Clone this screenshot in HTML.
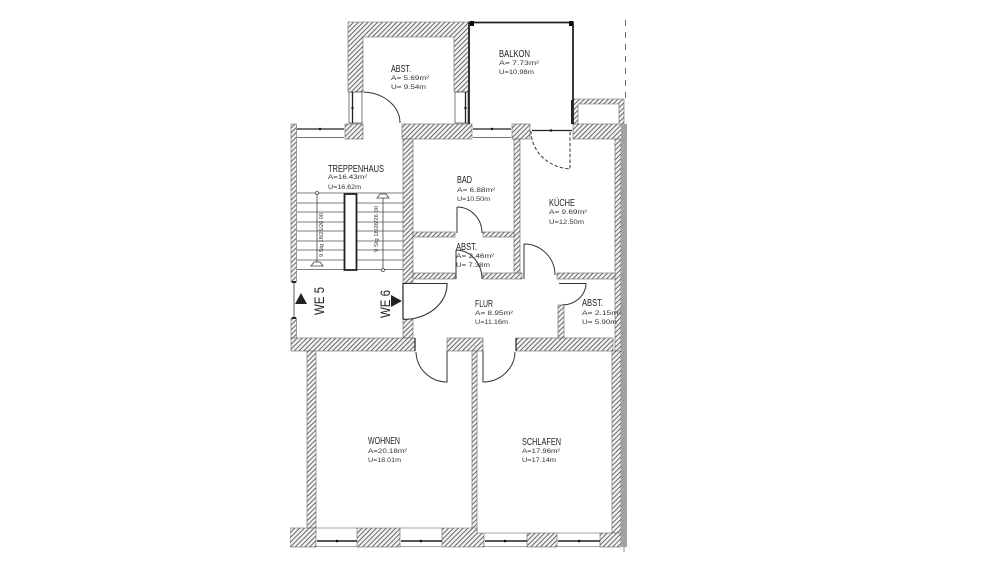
<!DOCTYPE html>
<html><head><meta charset="utf-8"><style>
html,body{margin:0;padding:0;background:#fff}
svg{display:block}
text{font-family:"Liberation Sans",sans-serif;fill:#222}
.t{font-size:10px}
.s{font-size:6.5px;fill:#333}
.v{font-size:5px;fill:#333}
.w{font-size:14px}
</style></head><body>
<svg width="1000" height="563" viewBox="0 0 1000 563" xmlns="http://www.w3.org/2000/svg">
<defs>
<pattern id="h" width="3.4" height="3.4" patternUnits="userSpaceOnUse" patternTransform="rotate(45)">
<rect width="3.4" height="3.4" fill="#f4f4f4"/><rect width="1" height="3.4" fill="#666"/>
</pattern>
<pattern id="d" width="1.8" height="1.8" patternUnits="userSpaceOnUse" patternTransform="rotate(45)">
<rect width="1.8" height="1.8" fill="#c4c4c4"/><rect width=".8" height="1.8" fill="#777"/>
</pattern>
<filter id="b" x="0" y="0" width="100%" height="100%"><feGaussianBlur stdDeviation="0.35"/></filter>
</defs>
<rect width="1000" height="563" fill="#fff"/>
<g filter="url(#b)">
<g fill="url(#h)" stroke="#666" stroke-width=".6">
<path d="M348 22H469V92H454V37H363V92H348Z"/>
<rect x="345" y="124" width="18" height="15"/>
<rect x="402" y="124" width="70" height="15"/>
<rect x="512" y="124" width="18" height="15"/>
<rect x="573" y="124" width="51" height="15"/>
<path d="M573 99H624V124H619V104H578V124H573Z"/>
<rect x="291" y="124" width="5.5" height="158"/>
<rect x="291" y="318" width="5.500" height="20"/>
<rect x="403" y="139" width="10" height="144"/>
<rect x="403" y="319" width="10" height="19"/>
<rect x="514" y="139" width="6" height="134"/>
<rect x="615" y="139" width="6" height="389"/>
<rect x="291" y="338" width="124" height="13"/>
<rect x="447" y="338" width="36" height="13"/>
<rect x="516" y="338" width="97" height="13"/>
<rect x="413" y="232" width="42" height="5"/>
<rect x="483" y="232" width="31" height="5"/>
<rect x="413" y="273" width="42" height="6"/>
<rect x="483" y="273" width="39" height="6"/>
<rect x="557" y="273" width="58" height="6"/>
<rect x="558" y="305" width="6" height="33"/>
<rect x="307" y="351" width="9" height="177"/>
<rect x="472" y="351" width="5" height="182"/>
<rect x="612" y="351" width="9" height="182"/>
<rect x="290" y="528" width="26" height="19"/>
<rect x="357" y="528" width="43" height="19"/>
<path d="M442 528H477V533H484V547H442Z"/>
<rect x="527" y="533" width="30" height="14"/>
<rect x="600" y="533" width="21" height="14"/>
</g>
<rect x="621" y="124" width="6" height="423" fill="url(#d)"/>

<!-- windows -->
<g fill="none" stroke="#444" stroke-width=".7">
<rect x="349" y="92" width="13" height="31"/>
<rect x="455" y="92" width="13" height="31"/>
<path d="M297 137.500H344M473 137.500H511"/>
<path d="M316 546.500H357M400 546.500H442M484 546.500H527M557 546.500H600" stroke="#888"/>
<path d="M316 528H357M400 528H442M484 533H527M557 533H600" stroke="#888"/>
</g>
<g fill="none" stroke="#222" stroke-width="1.300">
<path d="M352.500 92V123M465.500 92V123"/>
<path d="M297 129H344M473 129H511M532 130.500H572"/>
<path d="M317 541H357M401 541H442M485 541H527M558 541H600" stroke-width="1.500"/>
</g>
<g fill="#111">
<circle cx="320" cy="129" r="1.200"/><circle cx="492" cy="129" r="1.200"/><circle cx="551" cy="130.500" r="1.200"/>
<circle cx="337" cy="541" r="1.300"/><circle cx="421" cy="541" r="1.300"/><circle cx="505" cy="541" r="1.300"/><circle cx="579" cy="541" r="1.300"/>
<circle cx="352.500" cy="108" r="1.200"/><circle cx="465.500" cy="108" r="1.200"/>
</g>

<!-- balkon -->
<path d="M469 124V22.500H573V124" fill="none" stroke="#222" stroke-width="1.800"/>
<rect x="470" y="21" width="4" height="5" fill="#111"/><rect x="569" y="21" width="4" height="5" fill="#111"/>
<rect x="571" y="100" width="2.500" height="24" fill="#222"/>
<path d="M625.500 20V100" stroke="#555" stroke-width=".9" stroke-dasharray="6 6" fill="none"/>
<path d="M624 547V552" stroke="#555" stroke-width=".7"/>

<!-- stairs -->
<g stroke="#555" stroke-width=".8" fill="none">
<path d="M297 193H403M297 203H403M297 212H403M297 222H403M297 231H403M297 241H403M297 250H403M297 260H403M297 269.500H403"/>
<path d="M317 193V265M383 196V270" stroke="#444"/>
</g>
<rect x="344.500" y="194" width="12" height="76" fill="#fff" stroke="#222" stroke-width="1.800"/>
<g fill="#fff" stroke="#444" stroke-width=".8">
<circle cx="317" cy="193" r="1.500"/><circle cx="383" cy="270" r="1.500"/>
<path d="M311 266H323L320 262H314Z"/><path d="M377 198H389L386 194H380Z"/>
</g>
<text class="v" transform="translate(323,257) rotate(-90)" textLength="44" lengthAdjust="spacingAndGlyphs">9 Stg 18/26/26 00</text>
<text class="v" transform="translate(378,252) rotate(-90)" textLength="46" lengthAdjust="spacingAndGlyphs">9 Stg 18/26/26 00</text>

<!-- doors -->
<g fill="none" stroke="#333" stroke-width="1">
<path d="M363.500 92A38 31 0 0 1 400 123"/>
<path d="M457 207V233M457 207A25 26 0 0 1 482 233"/>
<path d="M456 250V279M456 250A26 29 0 0 1 482 279"/>
<path d="M524 244V279M524 244A31 31 0 0 1 555 275"/>
<path d="M403 283.500H447A44 35 0 0 1 403 319.500" stroke-width="1.100"/>
<path d="M559 283.500H586A24 22 0 0 1 562 305"/>
<path d="M447 351V382A31 31 0 0 1 416 352"/>
<path d="M483 351V382A32 31 0 0 0 515 352"/>
<path d="M531 131A42 38 0 0 0 570 169V131" stroke-dasharray="3.500 2"/>
</g>
<path d="M403 283V319" stroke="#222" stroke-width="1.200"/>
<path d="M415 338V351M516 338V351" stroke="#222" stroke-width="1.200"/>

<!-- triangles -->
<path d="M301 293L307 304H295Z" fill="#222"/>
<path d="M402 301L391 295V307Z" fill="#222"/>
<path d="M294 282V318" stroke="#333" stroke-width=".8"/>
<rect x="292" y="281" width="4" height="2" fill="#222"/><rect x="292" y="317" width="4" height="2" fill="#222"/>

<!-- labels -->
<text class="t" x="391" y="72" textLength="20" lengthAdjust="spacingAndGlyphs">ABST.</text>
<text class="s" x="391" y="80" textLength="38" lengthAdjust="spacingAndGlyphs">A=  5.69m²</text>
<text class="s" x="391" y="89" textLength="35" lengthAdjust="spacingAndGlyphs">U=  9.54m</text>
<text class="t" x="499" y="57" textLength="31" lengthAdjust="spacingAndGlyphs">BALKON</text>
<text class="s" x="499" y="65" textLength="40" lengthAdjust="spacingAndGlyphs">A=  7.73m²</text>
<text class="s" x="499" y="74" textLength="35" lengthAdjust="spacingAndGlyphs">U=10.98m</text>
<text class="t" x="328" y="172" textLength="56" lengthAdjust="spacingAndGlyphs">TREPPENHAUS</text>
<text class="s" x="328" y="179" textLength="39" lengthAdjust="spacingAndGlyphs">A=16.43m²</text>
<text class="s" x="328" y="189" textLength="33" lengthAdjust="spacingAndGlyphs">U=16.62m</text>
<text class="t" x="457" y="183" textLength="15" lengthAdjust="spacingAndGlyphs">BAD</text>
<text class="s" x="457" y="192" textLength="38" lengthAdjust="spacingAndGlyphs">A=  6.88m²</text>
<text class="s" x="457" y="201" textLength="33" lengthAdjust="spacingAndGlyphs">U=10.50m</text>
<text class="t" x="549" y="206" textLength="26" lengthAdjust="spacingAndGlyphs">KÜCHE</text>
<text class="s" x="549" y="214" textLength="38" lengthAdjust="spacingAndGlyphs">A=  9.69m²</text>
<text class="s" x="549" y="224" textLength="35" lengthAdjust="spacingAndGlyphs">U=12.50m</text>
<text class="t" x="456" y="250" textLength="21" lengthAdjust="spacingAndGlyphs">ABST.</text>
<text class="s" x="456" y="258" textLength="38" lengthAdjust="spacingAndGlyphs">A=  2.46m²</text>
<text class="s" x="456" y="267" textLength="34" lengthAdjust="spacingAndGlyphs">U=  7.38m</text>
<text class="t" x="475" y="307" textLength="18" lengthAdjust="spacingAndGlyphs">FLUR</text>
<text class="s" x="475" y="315" textLength="38" lengthAdjust="spacingAndGlyphs">A=  8.95m²</text>
<text class="s" x="475" y="324" textLength="33" lengthAdjust="spacingAndGlyphs">U=11.16m</text>
<text class="t" x="582" y="306" textLength="21" lengthAdjust="spacingAndGlyphs">ABST.</text>
<text class="s" x="582" y="315" textLength="39" lengthAdjust="spacingAndGlyphs">A=  2.15m²</text>
<text class="s" x="582" y="324" textLength="35" lengthAdjust="spacingAndGlyphs">U=  5.90m</text>
<text class="t" x="368" y="444" textLength="32" lengthAdjust="spacingAndGlyphs">WOHNEN</text>
<text class="s" x="368" y="453" textLength="39" lengthAdjust="spacingAndGlyphs">A=20.18m²</text>
<text class="s" x="368" y="462" textLength="33" lengthAdjust="spacingAndGlyphs">U=18.01m</text>
<text class="t" x="522" y="445" textLength="39" lengthAdjust="spacingAndGlyphs">SCHLAFEN</text>
<text class="s" x="522" y="453" textLength="38" lengthAdjust="spacingAndGlyphs">A=17.96m²</text>
<text class="s" x="522" y="462" textLength="34" lengthAdjust="spacingAndGlyphs">U=17.14m</text>
<text class="w" transform="translate(324,315) rotate(-90)" textLength="28" lengthAdjust="spacingAndGlyphs">WE 5</text>
<text class="w" transform="translate(390,318) rotate(-90)" textLength="28" lengthAdjust="spacingAndGlyphs">WE 6</text>
</g>
</svg>
</body></html>
